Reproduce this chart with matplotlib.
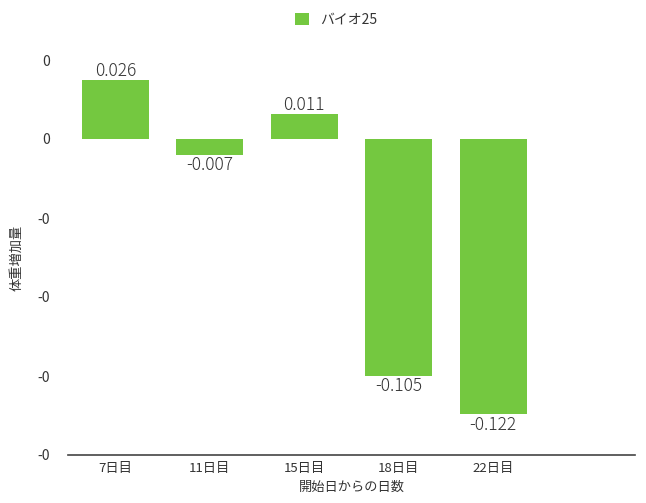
import matplotlib
matplotlib.use("Agg")
import matplotlib.pyplot as plt
from matplotlib.ticker import FixedLocator, FuncFormatter

plt.rcParams['font.family'] = ['Noto Sans CJK JP', 'DejaVu Sans']

categories = ["7日目", "11日目", "15日目", "18日目", "22日目"]
values = [0.026, -0.007, 0.011, -0.105, -0.122]
value_labels = ["0.026", "-0.007", "0.011", "-0.105", "-0.122"]
yticks = [0.035, 0.0, -0.035, -0.07, -0.105, -0.14]
series_name = "バイオ25"

bar_color = "#74C840"
text_color = "#333333"

fig = plt.figure(figsize=(6.46, 5.03), dpi=100)
ax = fig.add_axes([68/646, 48/503, (635-68)/646, (455-60)/503])

x = list(range(len(categories)))
bars = ax.bar(x, values, width=0.71, color=bar_color, label=series_name, zorder=2)

for xi, v, lab in zip(x, values, value_labels):
    if v >= 0:
        ax.annotate(lab, (xi, v), xytext=(0, 0), textcoords="offset points",
                    ha="center", va="bottom", fontsize=12.5, color=text_color,
                    fontweight="light")
    else:
        ax.annotate(lab, (xi, v), xytext=(0, -1), textcoords="offset points",
                    ha="center", va="top", fontsize=12.5, color=text_color,
                    fontweight="light")

ax.set_xlim(-0.5, 5.5)
ax.set_ylim(-0.14, 0.035)
ax.set_xticks(x)
ax.set_xticklabels(categories, fontsize=9.5, color=text_color)
ax.yaxis.set_major_locator(FixedLocator(yticks))
ax.yaxis.set_major_formatter(FuncFormatter(lambda v, p: "-0" if v < -1e-9 else "0"))
ax.tick_params(axis='y', length=0, pad=13, labelsize=10, labelcolor=text_color)
ax.tick_params(axis='x', length=0, pad=5)

for s in ["top", "right", "left"]:
    ax.spines[s].set_visible(False)
ax.spines["bottom"].set_color("#444444")
ax.spines["bottom"].set_linewidth(1.2)

ax.set_xlabel("開始日からの日数", fontsize=9.5, color=text_color, labelpad=4)
ax.set_ylabel("体重増加量", fontsize=9.5, color=text_color, labelpad=10)

fig.legend(handles=[bars], labels=[series_name], loc="upper center",
           bbox_to_anchor=(0.52, 1.0), frameon=False, fontsize=10,
           handlelength=1.0, handleheight=1.0, labelcolor=text_color)

fig.savefig("out.png", dpi=100, facecolor="white")
